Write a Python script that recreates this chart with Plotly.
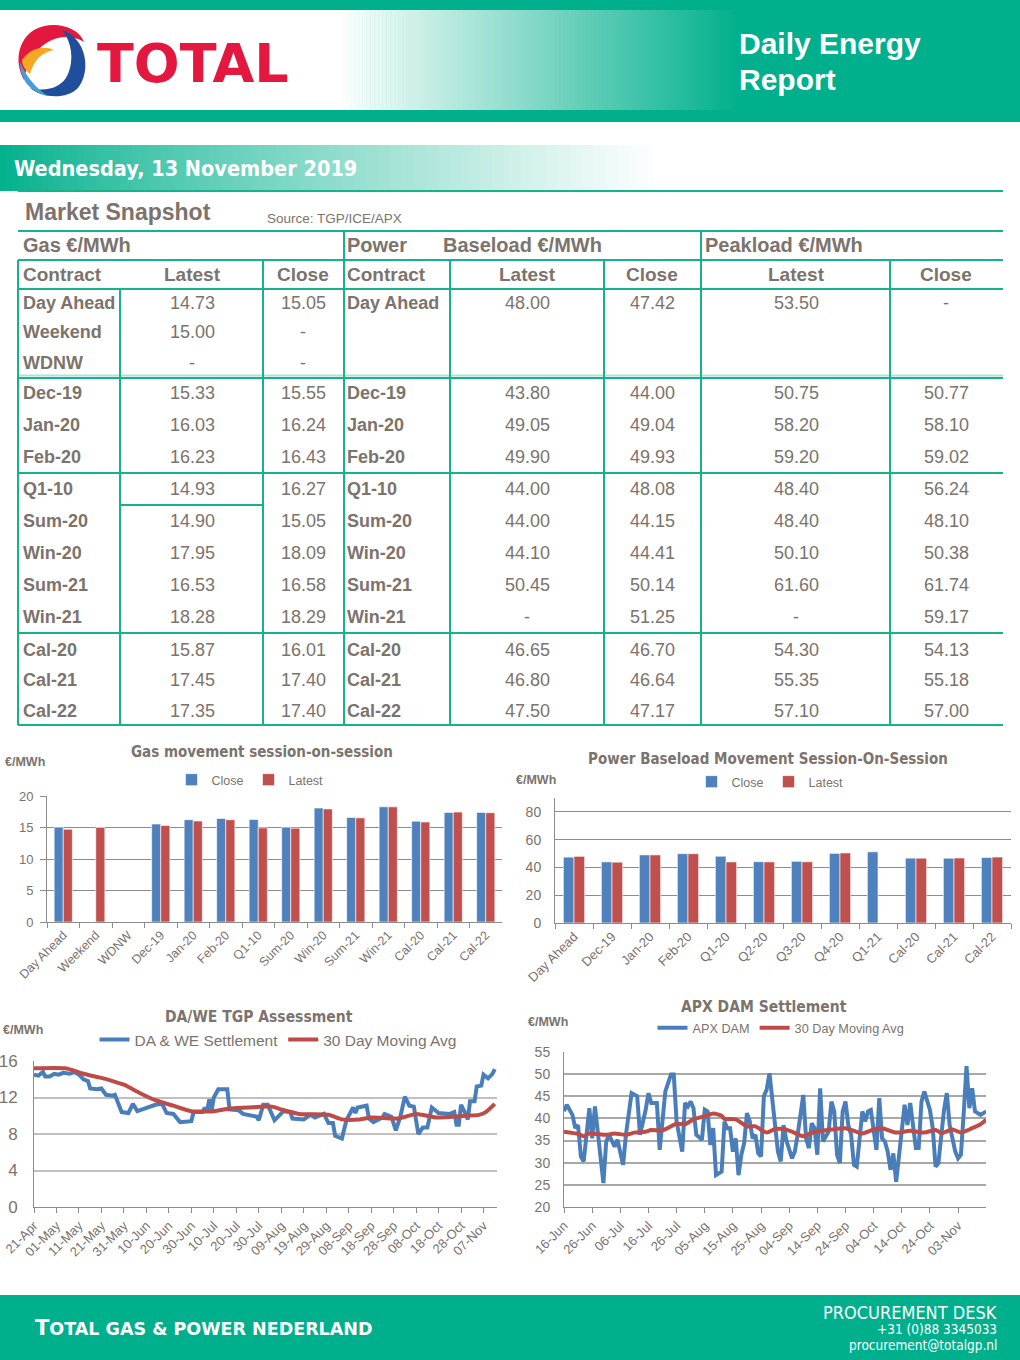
import re
import pandas as pd
import plotly.graph_objects as go

W, H = 1020, 1360
GREEN = (0, 176, 140)
LINE_GREEN = "rgb(22,178,140)"
TXT = "#7B736C"
AX = "#8C8C8C"
BLUE = "#4F81BD"
RED = "#C0504D"
LBLUE = "#4A7EBB"
LRED = "#BE4B48"
SANS = "Liberation Sans, Arial, sans-serif"
NARROW = "Liberation Sans Narrow, Arial Narrow, DejaVu Sans Condensed, Liberation Sans, sans-serif"

# ---------------- data ----------------
gas_contracts = ["Day Ahead", "Weekend", "WDNW", "Dec-19", "Jan-20", "Feb-20", "Q1-10",
                 "Sum-20", "Win-20", "Sum-21", "Win-21", "Cal-20", "Cal-21", "Cal-22"]
gas_latest = [14.73, 15.00, None, 15.33, 16.03, 16.23, 14.93, 14.90, 17.95, 16.53, 18.28, 15.87, 17.45, 17.35]
gas_close = [15.05, None, None, 15.55, 16.24, 16.43, 16.27, 15.05, 18.09, 16.58, 18.29, 16.01, 17.40, 17.40]

power_contracts = ["Day Ahead", "Dec-19", "Jan-20", "Feb-20", "Q1-10", "Sum-20", "Win-20",
                   "Sum-21", "Win-21", "Cal-20", "Cal-21", "Cal-22"]
base_latest = [48.00, 43.80, 49.05, 49.90, 44.00, 44.00, 44.10, 50.45, None, 46.65, 46.80, 47.50]
base_close = [47.42, 44.00, 49.04, 49.93, 48.08, 44.15, 44.41, 50.14, 51.25, 46.70, 46.64, 47.17]
peak_latest = [53.50, 50.75, 58.20, 59.20, 48.40, 48.40, 50.10, 61.60, None, 54.30, 55.35, 57.10]
peak_close = [None, 50.77, 58.10, 59.02, 56.24, 48.10, 50.38, 61.74, 59.17, 54.13, 55.18, 57.00]

power_chart_cats = ["Day Ahead", "Dec-19", "Jan-20", "Feb-20", "Q1-20", "Q2-20", "Q3-20",
                    "Q4-20", "Q1-21", "Cal-20", "Cal-21", "Cal-22"]

tgp_start = "2019-04-21"
tgp_days = [0, 2, 4, 5, 7, 9, 11, 13, 16, 18, 20, 22, 24, 25, 28, 30, 32, 35, 36, 39, 42, 44, 46,
            54, 57, 59, 62, 65, 70, 71, 75, 76, 77, 78, 79, 80, 82, 86, 87, 91, 93, 96, 99, 100,
            102, 104, 107, 111, 114, 115, 120, 123, 125, 129, 131, 133, 134, 137, 139, 142, 143,
            144, 148, 149, 151, 155, 156, 159, 161, 163, 165, 167, 169, 171, 173, 175, 177, 180,
            185, 187, 188, 189, 190, 192, 193, 194, 196, 197, 199, 200, 202, 204, 205]
tgp_settle = [14.5, 14.4, 14.8, 14.3, 14.3, 14.6, 14.5, 14.7, 14.6, 14.8, 14.5, 14.0, 13.8, 13.0,
              12.9, 13.0, 12.3, 12.2, 12.3, 10.4, 10.3, 11.3, 10.5, 11.2, 11.3, 10.3, 10.2, 9.3,
              9.4, 10.4, 10.4, 10.9, 10.5, 11.8, 10.5, 12.0, 12.9, 12.9, 10.7, 10.6, 10.2, 10.0,
              9.9, 9.5, 11.2, 11.2, 9.5, 10.5, 10.4, 9.7, 9.6, 10.1, 9.8, 10.2, 9.2, 9.2, 7.8,
              7.5, 9.5, 10.9, 10.3, 10.9, 11.1, 9.7, 9.3, 9.8, 10.2, 9.9, 8.4, 9.9, 12.1, 11.1,
              11.0, 8.0, 8.7, 8.7, 10.9, 10.3, 10.2, 10.4, 9.0, 9.0, 11.2, 10.2, 9.6, 11.6, 11.6,
              13.2, 13.3, 14.5, 14.1, 14.6, 15.1]
tgp_ma_days = [0, 14, 22, 29, 35, 40, 47, 54, 62, 70, 80, 87, 95, 102, 106, 110, 118, 131, 137,
               145, 150, 162, 170, 179, 192, 198, 201, 205]
tgp_ma = [15.2, 15.2, 14.6, 14.2, 13.8, 13.4, 12.5, 11.7, 11.1, 10.5, 10.5, 10.8, 10.9, 11.0,
          11.0, 10.7, 10.2, 10.1, 9.6, 9.6, 9.8, 9.7, 10.2, 9.8, 10.0, 10.1, 10.4, 11.3]

apx_start = "2019-06-16"
apx_days = [0, 1, 3, 4, 5, 6, 7, 9, 10, 11, 14, 15, 16, 18, 19, 21, 22, 24, 26, 27, 29, 30, 31,
            33, 34, 36, 38, 39, 40, 42, 43, 44, 45, 46, 47, 49, 50, 51, 52, 53, 54, 56, 57, 58,
            59, 60, 61, 62, 63, 64, 65, 66, 67, 68, 69, 70, 71, 72, 73, 74, 76, 77, 78, 79, 80,
            81, 82, 83, 85, 86, 87, 88, 89, 90, 91, 92, 94, 95, 96, 97, 98, 99, 100, 101, 102,
            103, 104, 106, 107, 108, 109, 111, 112, 113, 114, 115, 116, 117, 118, 120, 121, 122,
            123, 125, 126, 127, 128, 130, 131, 132, 133, 135, 136, 137, 139, 140, 141, 142, 143,
            144, 145, 146, 148, 149, 150]
apx_dam = [41.6, 43.1, 40.8, 37.8, 38.5, 31.4, 30.3, 42.3, 35.5, 42.7, 25.4, 34.8, 36.3, 33.6,
           35.2, 29.5, 36.3, 45.7, 45.0, 36.3, 41.9, 45.7, 43.5, 43.5, 32.9, 46.1, 49.9, 49.9,
           39.3, 32.5, 43.5, 42.7, 43.8, 42.3, 36.3, 35.2, 42.0, 41.6, 34.0, 37.8, 27.2, 28.0,
           39.3, 37.8, 37.8, 32.5, 35.5, 27.2, 31.8, 34.4, 41.2, 39.3, 35.5, 36.3, 32.1, 31.4,
           45.0, 46.5, 50.2, 43.8, 32.5, 30.3, 38.5, 35.0, 33.0, 31.0, 32.5, 36.3, 45.3, 35.5,
           33.3, 38.9, 37.8, 31.8, 46.8, 34.8, 37.0, 43.8, 41.6, 31.8, 29.9, 41.6, 43.8, 38.5,
           36.3, 29.5, 29.1, 41.6, 39.3, 41.6, 41.9, 32.9, 44.6, 35.5, 34.8, 32.5, 28.4, 32.1,
           25.7, 37.8, 43.1, 38.5, 43.5, 33.3, 33.3, 43.8, 46.1, 41.9, 37.8, 29.1, 29.9, 41.9,
           45.7, 38.5, 32.5, 31.0, 31.8, 41.2, 51.8, 42.3, 46.8, 41.6, 40.8, 41.2, 41.6, 47.6]
apx_ma_days = [0, 5, 7, 9, 15, 18, 22, 25, 29, 31, 35, 40, 43, 46, 50, 53, 56, 57, 61, 65, 68,
               72, 75, 78, 81, 85, 89, 95, 100, 106, 110, 113, 118, 123, 128, 132, 134, 138, 141,
               145, 148, 150]
apx_ma = [37.0, 36.5, 36.0, 36.6, 36.3, 36.6, 36.3, 36.8, 37.0, 37.4, 37.3, 38.8, 38.7, 39.8,
          40.5, 41.1, 40.6, 39.9, 39.8, 38.2, 38.2, 36.8, 37.6, 37.6, 37.0, 36.0, 37.0, 37.5,
          37.8, 36.6, 37.5, 37.8, 36.8, 37.2, 36.8, 37.4, 36.7, 37.5, 36.8, 37.8, 38.7, 39.7]

tgp_dates = [pd.Timestamp(tgp_start) + pd.Timedelta(days=d) for d in tgp_days]
tgp_ma_dates = [pd.Timestamp(tgp_start) + pd.Timedelta(days=d) for d in tgp_ma_days]
apx_dates = [pd.Timestamp(apx_start) + pd.Timedelta(days=d) for d in apx_days]
apx_ma_dates = [pd.Timestamp(apx_start) + pd.Timedelta(days=d) for d in apx_ma_days]

# ---------------- helpers (page pixels -> paper) ----------------
def X(x):
    return x / W


def Y(y):
    return 1 - y / H


shapes = []
annotations = []


def rgb(c):
    return "rgb(%d,%d,%d)" % c


def mix(c0, c1, t):
    return tuple(int(round(a + (b - a) * t)) for a, b in zip(c0, c1))


def rect(x0, y0, x1, y1, color):
    shapes.append(dict(type="rect", xref="paper", yref="paper", x0=X(x0), x1=X(x1),
                       y0=Y(y1), y1=Y(y0), fillcolor=color, line=dict(width=0), layer="below"))


def gradient(x0, x1, y0, y1, c0, c1, steps, power=1.0):
    w = (x1 - x0) / steps
    for i in range(steps):
        t = ((i + 0.5) / steps) ** power
        rect(x0 + i * w, y0, x0 + (i + 1) * w + 0.6, y1, rgb(mix(c0, c1, t)))


def hline(x0, x1, y, color=LINE_GREEN, width=2):
    shapes.append(dict(type="line", xref="paper", yref="paper", x0=X(x0), x1=X(x1),
                       y0=Y(y), y1=Y(y), line=dict(color=color, width=width)))


def vline(x, y0, y1, color=LINE_GREEN, width=2):
    shapes.append(dict(type="line", xref="paper", yref="paper", x0=X(x), x1=X(x),
                       y0=Y(y0), y1=Y(y1), line=dict(color=color, width=width)))


def path(d, color):
    out = []
    toks = re.findall(r"-?\d+\.?\d*|[A-Za-z]", d)
    i = 0
    while i < len(toks):
        t = toks[i]
        if t.isalpha():
            out.append(t)
            i += 1
        else:
            out.append("%.5f,%.5f" % (X(float(toks[i])), Y(float(toks[i + 1]))))
            i += 2
    shapes.append(dict(type="path", xref="paper", yref="paper", path=" ".join(out),
                       fillcolor=color, line=dict(width=0), layer="above"))


def text(x, y, s, size, color=TXT, family=SANS, xanchor="left", yanchor="middle"):
    annotations.append(dict(xref="paper", yref="paper", x=X(x), y=Y(y), text=s, showarrow=False,
                            xanchor=xanchor, yanchor=yanchor,
                            font=dict(size=size, color=color, family=family)))


WHITE = (255, 255, 255)

# ---------------- header ----------------
rect(0, 0, W, 122, rgb(GREEN))
rect(0, 10, 340, 110, "white")
gradient(338, 740, 10, 110, WHITE, GREEN, 100)

# logo
path("M 84 42 C 78 26 52 20 34 30 C 18 40 14 62 24 80 C 26 66 34 50 48 42 C 60 35 74 36 84 42 Z", "#E4173E")
path("M 62 30 C 86 38 92 70 78 88 C 66 100 42 98 30 88 C 46 92 62 88 68 74 C 74 60 72 42 62 30 Z", "#1F4E9C")
path("M 20 62 C 20 80 30 92 48 96 C 36 88 27 78 20 62 Z", "#4A9BD7")
path("M 22 60 C 30 48 44 45 54 50 C 42 52 34 60 30 74 C 25 70 22 65 22 60 Z", "#F7A823")
text(193, 63, "<b>TOTAL</b>", 54, "#E4173E", "DejaVu Sans, Liberation Sans", xanchor="center")

text(737, 43, "<b>Daily Energy</b>", 30, "white")
text(737, 79, "<b>Report</b>", 30, "white")

# date bar
gradient(0, 660, 145, 191, GREEN, WHITE, 110, 0.85)
text(12, 168, "<b>Wednesday, 13 November 2019</b>", 21.5, "white", NARROW)
hline(18, 1003, 191, LINE_GREEN, 2)

# ---------------- table ----------------
text(23, 212, "<b>Market Snapshot</b>", 23)
text(265, 219, "Source: TGP/ICE/APX", 13.5)

for yy in [231, 260, 289, 473, 633, 725]:
    hline(18, 1003, yy)
hline(18, 1003, 375.5, "rgb(175,226,212)", 2)
hline(18, 1003, 378)
hline(120, 263, 505)
vline(18, 260, 725)
vline(120, 289, 725)
vline(263, 260, 725)
vline(344, 231, 725)
vline(450, 260, 725)
vline(604, 260, 725)
vline(701, 231, 725)
vline(890, 260, 725)

text(21, 245, "<b>Gas €/MWh</b>", 20)
text(345, 245, "<b>Power</b>", 20)
text(441, 245, "<b>Baseload €/MWh</b>", 20)
text(703, 245, "<b>Peakload €/MWh</b>", 20)

hdr_y = 275
text(21, hdr_y, "<b>Contract</b>", 19)
text(192, hdr_y, "<b>Latest</b>", 19, xanchor="center")
text(303, hdr_y, "<b>Close</b>", 19, xanchor="center")
text(345, hdr_y, "<b>Contract</b>", 19)
text(527, hdr_y, "<b>Latest</b>", 19, xanchor="center")
text(652, hdr_y, "<b>Close</b>", 19, xanchor="center")
text(796, hdr_y, "<b>Latest</b>", 19, xanchor="center")
text(946, hdr_y, "<b>Close</b>", 19, xanchor="center")

gas_row_y = [303, 332, 363, 393, 425, 457, 489, 521, 553, 585, 617, 650, 680, 711]
power_row_y = [303, 393, 425, 457, 489, 521, 553, 585, 617, 650, 680, 711]


def fmt(v):
    return "-" if v is None else "%.2f" % v


for i, c in enumerate(gas_contracts):
    yy = gas_row_y[i]
    text(21, yy, "<b>%s</b>" % c, 18)
    text(192, yy, fmt(gas_latest[i]), 18, xanchor="center")
    text(303, yy, fmt(gas_close[i]), 18, xanchor="center")

for i, c in enumerate(power_contracts):
    yy = power_row_y[i]
    text(345, yy, "<b>%s</b>" % c, 18)
    text(527, yy, fmt(base_latest[i]), 18, xanchor="center")
    text(652, yy, fmt(base_close[i]), 18, xanchor="center")
    text(796, yy, fmt(peak_latest[i]), 18, xanchor="center")
    text(946, yy, fmt(peak_close[i]), 18, xanchor="center")

# ---------------- chart titles ----------------
text(262, 752, "<b>Gas movement session-on-session</b>", 15, TXT, NARROW, xanchor="center")
text(3, 762, "<b>€/MWh</b>", 12.5)
text(768, 759, "<b>Power Baseload Movement Session-On-Session</b>", 15, TXT, NARROW, xanchor="center")
text(514, 780, "<b>€/MWh</b>", 12.5)
text(259, 1017, "<b>DA/WE TGP Assessment</b>", 15.5, TXT, NARROW, xanchor="center")
text(1, 1030, "<b>€/MWh</b>", 12.5)
text(764, 1007, "<b>APX DAM Settlement</b>", 15.5, TXT, NARROW, xanchor="center")
text(526, 1022, "<b>€/MWh</b>", 12.5)

# ---------------- footer ----------------
rect(0, 1295, W, 1360, rgb(GREEN))
text(33, 1328, "<b>T<span style='font-size:17.5px'>OTAL GAS &amp; POWER NEDERLAND</span></b>", 21,
     "white", "DejaVu Sans, Liberation Sans")
text(999, 1312, "PROCUREMENT DESK", 18, "white", NARROW, xanchor="right")
text(999, 1329, "+31 (0)88 3345033", 13.5, "white", NARROW, xanchor="right")
text(999, 1345, "procurement@totalgp.nl", 13.5, "white", NARROW, xanchor="right")

# ---------------- traces ----------------
fig = go.Figure()
bar_line = dict(color="rgba(255,255,255,0.6)", width=1)
fig.add_trace(go.Bar(x=gas_contracts, y=gas_close, name="Close", marker=dict(color=BLUE, line=bar_line),
                     xaxis="x", yaxis="y", legend="legend"))
fig.add_trace(go.Bar(x=gas_contracts, y=gas_latest, name="Latest", marker=dict(color=RED, line=bar_line),
                     xaxis="x", yaxis="y", legend="legend"))
fig.add_trace(go.Bar(x=power_chart_cats, y=base_close, name="Close", marker=dict(color=BLUE, line=bar_line),
                     xaxis="x2", yaxis="y2", legend="legend2"))
fig.add_trace(go.Bar(x=power_chart_cats, y=base_latest, name="Latest", marker=dict(color=RED, line=bar_line),
                     xaxis="x2", yaxis="y2", legend="legend2"))
fig.add_trace(go.Scatter(x=tgp_dates, y=tgp_settle, name="DA & WE Settlement", mode="lines",
                         line=dict(color=LBLUE, width=4), xaxis="x3", yaxis="y3", legend="legend3"))
fig.add_trace(go.Scatter(x=tgp_ma_dates, y=tgp_ma, name="30 Day Moving Avg", mode="lines",
                         line=dict(color=LRED, width=4, shape="spline", smoothing=0.6),
                         xaxis="x3", yaxis="y3", legend="legend3"))
fig.add_trace(go.Scatter(x=apx_dates, y=apx_dam, name="APX DAM", mode="lines",
                         line=dict(color=LBLUE, width=4), xaxis="x4", yaxis="y4", legend="legend4"))
fig.add_trace(go.Scatter(x=apx_ma_dates, y=apx_ma, name="30 Day Moving Avg", mode="lines",
                         line=dict(color=LRED, width=4, shape="spline", smoothing=0.6),
                         xaxis="x4", yaxis="y4", legend="legend4"))


def cat_x(domain, anchor, size):
    return dict(domain=domain, anchor=anchor, type="category", showline=True, linecolor=AX,
                linewidth=1, ticks="outside", tickson="boundaries", ticklen=5, tickcolor=AX,
                tickangle=-45, tickfont=dict(size=size, color=TXT, family=SANS), showgrid=False,
                zeroline=False)


def val_y(domain, anchor, rng, tickvals, size, gridcolor, gridwidth, ticks, standoff):
    return dict(domain=domain, anchor=anchor, range=rng, tickvals=tickvals, showgrid=True,
                gridcolor=gridcolor, gridwidth=gridwidth, showline=True, linecolor=AX, linewidth=1,
                ticks=ticks, ticklen=6, tickcolor=AX, ticklabelstandoff=standoff,
                tickfont=dict(size=size, color=TXT, family=SANS), zeroline=False)


def date_x(domain, anchor, rng, tick0, size):
    return dict(domain=domain, anchor=anchor, type="date", range=rng, tick0=tick0,
                dtick=10 * 86400000, tickformat="%d-%b", showline=True, linecolor=AX, linewidth=1,
                ticks="outside", ticklen=5, tickcolor=AX, tickangle=-45,
                tickfont=dict(size=size, color=TXT, family=SANS), showgrid=False, zeroline=False)


def legend(x, y, size):
    return dict(x=X(x), y=Y(y), xanchor="center", yanchor="middle", orientation="h",
                font=dict(size=size, color=TXT, family=SANS), bgcolor="rgba(0,0,0,0)",
                itemwidth=30, tracegroupgap=0)


fig.update_layout(
    width=W, height=H, margin=dict(l=0, r=0, t=0, b=0), template="none",
    paper_bgcolor="white", plot_bgcolor="rgba(0,0,0,0)",
    font=dict(family=SANS, color=TXT),
    barmode="group", bargap=0.44, bargroupgap=0.0,
    shapes=shapes, annotations=annotations,
    xaxis=cat_x([X(47), X(502)], "y", 12.5),
    yaxis=val_y([Y(922), Y(796)], "x", [0, 20], [0, 5, 10, 15, 20], 13, AX, 1, "outside", 4),
    xaxis2=cat_x([X(555), X(1011)], "y2", 13),
    yaxis2=val_y([Y(923), Y(798)], "x2", [0, 90], [0, 20, 40, 60, 80], 14, AX, 1, "", 10),
    xaxis3=date_x([X(34), X(497)], "y3", ["2019-04-21", "2019-11-13"], "2019-04-21", 13),
    yaxis3=val_y([Y(1207), Y(1061)], "x3", [0, 16], [0, 4, 8, 12, 16], 17, "#C0C0C0", 2, "", 12),
    xaxis4=date_x([X(564), X(986)], "y4", ["2019-06-16", "2019-11-12 22:00"], "2019-06-16", 13),
    yaxis4=val_y([Y(1207), Y(1052)], "x4", [20, 55], [20, 25, 30, 35, 40, 45, 50, 55], 14, "#A8A8A8", 2, "", 10),
    legend=legend(250, 780, 12.5),
    legend2=legend(770, 782, 12.5),
    legend3=legend(278, 1040, 15.5),
    legend4=legend(781, 1028, 12.7),
)

fig.write_html("out.html", config={"displayModeBar": False},
               post_script="document.body.style.margin='0px';")
